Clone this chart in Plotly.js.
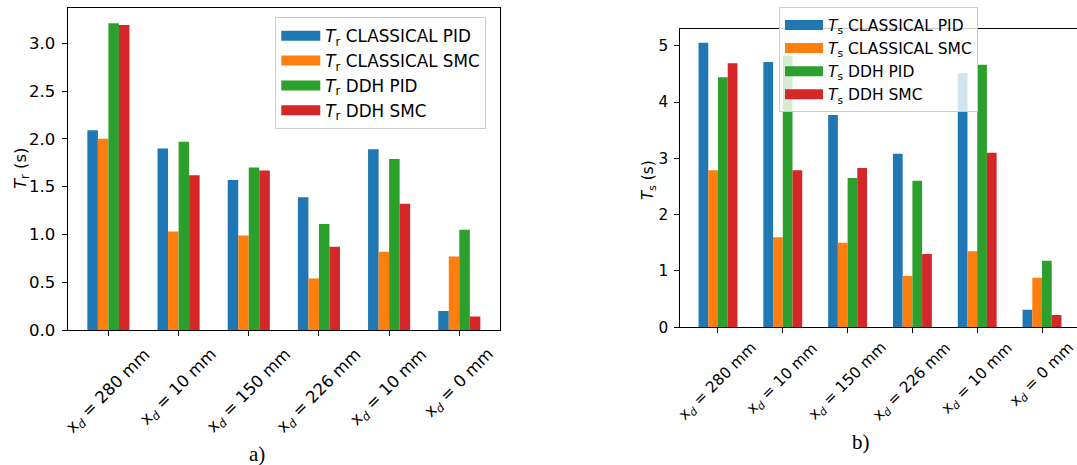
<!DOCTYPE html>
<html>
<head>
<meta charset="utf-8">
<script src="https://cdn.plot.ly/plotly-3.0.1.min.js"></script>
<style>html,body{margin:0;padding:0;background:#fff}#chart{width:1077px;height:465px}</style>
</head>
<body>
<div id="chart"></div>
<script>
// ---- data ----
const positions = [0, 1, 2, 3, 4, 5];
const tickLabels = [
  'x<sub><i>d</i></sub> = 280 mm',
  'x<sub><i>d</i></sub> = 10 mm',
  'x<sub><i>d</i></sub> = 150 mm',
  'x<sub><i>d</i></sub> = 226 mm',
  'x<sub><i>d</i></sub> = 10 mm',
  'x<sub><i>d</i></sub> = 0 mm'
];
const seriesNames = ['CLASSICAL PID', 'CLASSICAL SMC', 'DDH PID', 'DDH SMC'];
const colors = ['#1f77b4', '#ff7f0e', '#2ca02c', '#d62728'];

const trClassicalPID = [2.09, 1.90, 1.57, 1.39, 1.89, 0.20];
const trClassicalSMC = [2.00, 1.03, 0.99, 0.54, 0.82, 0.77];
const trDdhPID       = [3.21, 1.97, 1.70, 1.11, 1.79, 1.05];
const trDdhSMC       = [3.19, 1.62, 1.67, 0.87, 1.32, 0.14];

const tsClassicalPID = [5.05, 4.71, 3.77, 3.08, 4.51, 0.31];
const tsClassicalSMC = [2.79, 1.60, 1.50, 0.91, 1.35, 0.88];
const tsDdhPID       = [4.44, 4.82, 2.65, 2.60, 4.66, 1.18];
const tsDdhSMC       = [4.69, 2.79, 2.83, 1.30, 3.10, 0.22];

const trSeries = [trClassicalPID, trClassicalSMC, trDdhPID, trDdhSMC];
const tsSeries = [tsClassicalPID, tsClassicalSMC, tsDdhPID, tsDdhSMC];

// ---- layout helpers ----
const W = 1077, H = 465;
const FONT = 'DejaVu Sans, sans-serif';
const FS_A = 16.5, FS_B = 15.3;
const px = v => v / W;
const py = v => (H - v) / H;

const traces = [];
function addPanel(series, sub, xa, ya, leg) {
  series.forEach((vals, i) => {
    traces.push({
      type: 'bar', x: positions, y: vals, xaxis: xa, yaxis: ya,
      marker: {color: colors[i], line: {width: 0}},
      showlegend: false, hoverinfo: 'y'
    });
  });
  series.forEach((vals, i) => {
    traces.push({
      type: 'scatter', mode: 'lines', x: [null], y: [null], xaxis: xa, yaxis: ya,
      line: {color: colors[i], width: 11},
      name: '<i>T</i><sub>' + sub + '</sub> ' + seriesNames[i],
      legend: leg, showlegend: true
    });
  });
}
addPanel(trSeries, 'r', 'x', 'y', 'legend');
addPanel(tsSeries, 's', 'x2', 'y2', 'legend2');

const annotations = [];
positions.forEach((p, i) => {
  annotations.push({
    xref: 'x', yref: 'paper', x: p, y: py(342), xanchor: 'center', yanchor: 'top',
    text: tickLabels[i], textangle: -45, showarrow: false,
    font: {family: FONT, size: FS_A, color: '#000'}
  });
  annotations.push({
    xref: 'x2', yref: 'paper', x: p, y: py(336), xanchor: 'center', yanchor: 'top',
    text: tickLabels[i], textangle: -45, showarrow: false,
    font: {family: FONT, size: FS_B, color: '#000'}
  });
});
// y-axis titles
annotations.push({xref: 'paper', yref: 'paper', x: px(21), y: py(168), xanchor: 'center', yanchor: 'middle',
  text: '<i>T</i><sub>r</sub> (s)', textangle: -90, showarrow: false,
  font: {family: FONT, size: FS_A, color: '#000'}});
annotations.push({xref: 'paper', yref: 'paper', x: px(649), y: py(180), xanchor: 'center', yanchor: 'middle',
  text: '<i>T</i><sub>s</sub> (s)', textangle: -90, showarrow: false,
  font: {family: FONT, size: FS_B, color: '#000'}});
// captions
annotations.push({xref: 'paper', yref: 'paper', x: px(257), y: py(454), xanchor: 'center', yanchor: 'middle',
  text: 'a)', showarrow: false, font: {family: 'Liberation Serif, serif', size: 21, color: '#000'}});
annotations.push({xref: 'paper', yref: 'paper', x: px(861), y: py(442), xanchor: 'center', yanchor: 'middle',
  text: 'b)', showarrow: false, font: {family: 'Liberation Serif, serif', size: 21, color: '#000'}});

const axisCommon = {
  showgrid: false, zeroline: false, showline: true, linecolor: '#000', linewidth: 1.1,
  ticks: 'outside', ticklen: 5, tickwidth: 1, tickcolor: '#000', fixedrange: true
};

const layout = {
  width: W, height: H,
  margin: {l: 0, r: 0, t: 0, b: 0},
  paper_bgcolor: '#fff', plot_bgcolor: '#fff',
  font: {family: FONT, color: '#000'},
  barmode: 'group', bargap: 0.4, bargroupgap: 0,
  xaxis: Object.assign({}, axisCommon, {
    domain: [px(67.7), px(500)], range: [-0.58, 5.58], mirror: true,
    tickmode: 'array', tickvals: positions, showticklabels: false, anchor: 'y'
  }),
  yaxis: Object.assign({}, axisCommon, {
    domain: [py(330), py(8)], range: [0, 3.369], mirror: true,
    tickmode: 'array', tickvals: [0, 0.5, 1, 1.5, 2, 2.5, 3], tickformat: '.1f',
    tickfont: {family: FONT, size: FS_A, color: '#000'}, ticklabelstandoff: 3,
    anchor: 'x'
  }),
  xaxis2: Object.assign({}, axisCommon, {
    domain: [px(680.4), 1], range: [-0.58, 5.54], mirror: true,
    tickmode: 'array', tickvals: positions, showticklabels: false, anchor: 'y2'
  }),
  yaxis2: Object.assign({}, axisCommon, {
    domain: [py(327.3), py(29.3)], range: [0, 5.291], mirror: false,
    tickmode: 'array', tickvals: [0, 1, 2, 3, 4, 5],
    tickfont: {family: FONT, size: FS_B, color: '#000'}, ticklabelstandoff: 3,
    anchor: 'x2'
  }),
  legend: {
    x: px(275.3), y: py(17.3), xanchor: 'left', yanchor: 'top',
    bgcolor: 'rgba(255,255,255,0.8)', bordercolor: '#cccccc', borderwidth: 1,
    font: {family: FONT, size: 16.8, color: '#000'}, tracegroupgap: 0, itemwidth: 39
  },
  legend2: {
    x: px(779), y: py(7.3), xanchor: 'left', yanchor: 'top',
    bgcolor: 'rgba(255,255,255,0.8)', bordercolor: '#cccccc', borderwidth: 1,
    font: {family: FONT, size: 15.5, color: '#000'}, tracegroupgap: 0, itemwidth: 38
  },
  annotations: annotations
};

Plotly.newPlot('chart', traces, layout, {displayModeBar: false, staticPlot: true});
</script>
</body>
</html>
